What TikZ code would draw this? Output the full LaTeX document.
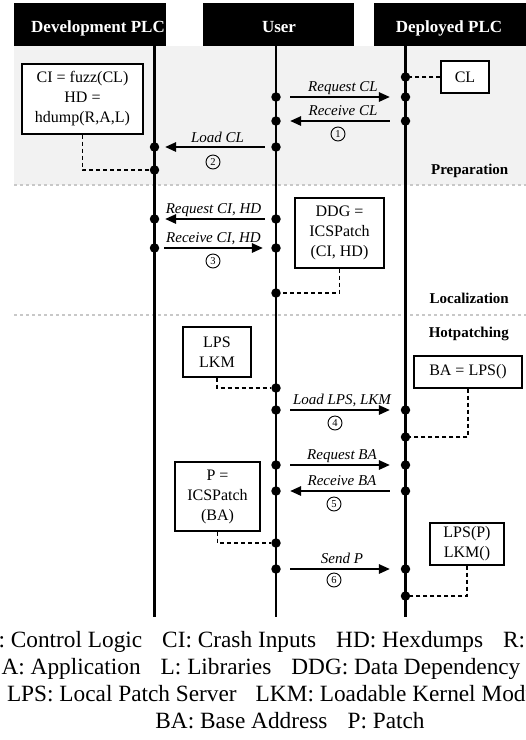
\documentclass[tikz,border=0pt]{standalone}
\usepackage{fontspec}
\setmainfont{Liberation Serif}
\usetikzlibrary{arrows.meta,calc}
\definecolor{prepbg}{HTML}{F2F2F2}
\definecolor{sepgray}{HTML}{C8C8C8}
\tikzset{
  hdr/.style={fill=black, inner sep=0, minimum height=43pt},
  hdrtext/.style={text=white, font=\fontsize{17}{20}\selectfont\bfseries, inner sep=0, anchor=base},
  lifeline/.style={line width=2.7pt},
  dot/.style={circle, fill=black, inner sep=0, minimum size=9.5pt},
  infobox/.style={draw, line width=1.1pt, fill=white, inner sep=0, align=center, font=\fontsize{16}{20}\selectfont},
  msg/.style={line width=1.6pt, -{Triangle[length=11pt,width=9.5pt]}},
  gapUD/.style={shorten <=9.25pt, shorten >=10.75pt},
  gapDU/.style={shorten <=10.75pt, shorten >=9.25pt},
  gapUV/.style={shorten <=6.25pt, shorten >=5.75pt},
  gapVU/.style={shorten <=4.75pt, shorten >=8.25pt},
  msglabel/.style={font=\fontsize{15}{18}\selectfont\itshape, inner sep=0, anchor=base},
  stepnum/.style={circle, draw, line width=0.9pt, minimum size=14pt, inner sep=0, font=\fontsize{10.5}{12}\selectfont},
  dashlink/.style={dash pattern=on 4pt off 3pt, line width=1.1pt},
  sepline/.style={sepgray, line width=1.2pt, dash pattern=on 3pt off 3pt},
  phase/.style={font=\fontsize{15}{18}\selectfont\bfseries, anchor=base east, inner sep=0},
  legendline/.style={font=\fontsize{23.3}{27}\selectfont, anchor=base, inner sep=0},
}
\begin{document}
\begin{tikzpicture}[x=1pt,y=-1pt]
\useasboundingbox (0,0) rectangle (526,740);

% phase backgrounds and separators
\fill[prepbg] (14,46) rectangle (526,185);
\draw[sepline] (14,185) -- (526,185);
\draw[sepline] (14,315) -- (526,315);

% headers
\node[hdr, minimum width=152pt] (hdev) at (90,24.5) {};
\node[hdr, minimum width=151pt] (huser) at (278.5,24.5) {};
\node[hdr, minimum width=152pt] (hdep) at (450,24.5) {};
\node[hdrtext] (tdev) at (98,32) {Development PLC};
\node[hdrtext] (tuser) at (279,32) {User};
\node[hdrtext] (tdep) at (449,32) {Deployed PLC};

% lifelines
\coordinate (devtop) at (154.5,46);
\coordinate (devbot) at (154.5,617);
\coordinate (usrtop) at (276,46);
\coordinate (usrbot) at (276,617);
\coordinate (deptop) at (405.5,46);
\coordinate (depbot) at (405.5,617);
\draw[lifeline] (devtop) -- (devbot);
\draw[lifeline] (usrtop) -- (usrbot);
\draw[lifeline] (deptop) -- (depbot);

% boxes
\node[infobox, minimum width=48pt, minimum height=32pt] (bCL) at (465,77) {CL};
\node[infobox, minimum width=121pt, minimum height=70pt] (bCI) at (82.5,99) {CI = fuzz(CL)\\HD =\\hdump(R,A,L)};
\node[infobox, minimum width=89pt, minimum height=70pt] (bDDG) at (339.5,233) {DDG =\\ICSPatch\\(CI, HD)};
\node[infobox, minimum width=68pt, minimum height=50pt] (bLPS) at (217,352) {LPS\\LKM};
\node[infobox, minimum width=108pt, minimum height=32pt] (bBA) at (468,372) {BA = LPS()};
\node[infobox, minimum width=85pt, minimum height=69pt] (bP) at (217.5,496.5) {P =\\ICSPatch\\(BA)};
\node[infobox, minimum width=74pt, minimum height=42pt] (bLPSP) at (467,544) {LPS(P)\\LKM()};

% dots
\node[dot] (dCL) at (405.5,77) {};
\node[dot] (dReqCL) at (405.5,97) {};
\node[dot] (dRecCL) at (405.5,121) {};
\node[dot] (dLoad) at (405.5,410) {};
\node[dot] (dBA) at (405.5,437) {};
\node[dot] (dReqBA) at (405.5,465) {};
\node[dot] (dRecBA) at (405.5,491) {};
\node[dot] (dSend) at (405.5,569) {};
\node[dot] (dLPSP) at (405.5,596) {};
\node[dot] (uReqCL) at (276,97) {};
\node[dot] (uRecCL) at (276,121) {};
\node[dot] (uLoadCL) at (276,147) {};
\node[dot] (uReqCI) at (276,219) {};
\node[dot] (uRecCI) at (276,248) {};
\node[dot] (uDDG) at (276,293) {};
\node[dot] (uLPS) at (276,388) {};
\node[dot] (uLoad) at (276,410) {};
\node[dot] (uReqBA) at (276,465) {};
\node[dot] (uRecBA) at (276,491) {};
\node[dot] (uP) at (276,543) {};
\node[dot] (uSend) at (276,569) {};
\node[dot] (vLoadCL) at (154.5,147) {};
\node[dot] (vCI) at (154.5,170) {};
\node[dot] (vReqCI) at (154.5,219) {};
\node[dot] (vRecCI) at (154.5,248) {};

% dashed links
\draw[dashlink] (bCL.west) -- (dCL);
\draw[dashlink] (bCI.south) |- (vCI);
\draw[dashlink] (bDDG.south) |- (uDDG);
\draw[dashlink] (bLPS.south) |- (uLPS);
\draw[dashlink] (bBA.south) |- (dBA);
\draw[dashlink] (bP.south) |- (uP);
\draw[dashlink] (bLPSP.south) |- (dLPSP);

% messages
\draw[msg, gapUD] (uReqCL) -- (dReqCL);
\draw[msg, gapDU] (dRecCL) -- (uRecCL);
\draw[msg, gapUV] (uLoadCL) -- (vLoadCL);
\draw[msg, gapUV] (uReqCI) -- (vReqCI);
\draw[msg, gapVU] (vRecCI) -- (uRecCI);
\draw[msg, gapUD] (uLoad) -- (dLoad);
\draw[msg, gapUD] (uReqBA) -- (dReqBA);
\draw[msg, gapDU] (dRecBA) -- (uRecBA);
\draw[msg, gapUD] (uSend) -- (dSend);

% message labels
\node[msglabel] (lReqCL) at (343,91) {Request CL};
\node[msglabel] (lRecCL) at (343,115) {Receive CL};
\node[msglabel] (lLoadCL) at (217.5,142) {Load CL};
\node[msglabel] (lReqCI) at (213.5,213) {Request CI, HD};
\node[msglabel] (lRecCI) at (213.5,242) {Receive CI, HD};
\node[msglabel] (lLoad) at (342,404) {Load LPS, LKM};
\node[msglabel] (lReqBA) at (342,459) {Request BA};
\node[msglabel] (lRecBA) at (342,485) {Receive BA};
\node[msglabel] (lSend) at (342,563) {Send P};

% step numbers
\node[stepnum] (s1) at (338,134) {1};
\node[stepnum] (s2) at (213,162) {2};
\node[stepnum] (s3) at (213,261) {3};
\node[stepnum] (s4) at (335,423) {4};
\node[stepnum] (s5) at (334,504) {5};
\node[stepnum] (s6) at (334,580) {6};

% phase labels
\node[phase] (pPrep) at (508.5,174) {Preparation};
\node[phase] (pLoc) at (509,303) {Localization};
\node[phase] (pHot) at (509,337) {Hotpatching};

% legend (cut at the picture's edges, as in the reference)
\node[legendline] (leg1) at (290,647) {CL: Control Logic\hspace{20pt}CI: Crash Inputs\hspace{20pt}HD: Hexdumps\hspace{20pt}R: Runtime};
\node[legendline] (leg2) at (293,674) {A: Application\hspace{20pt}L: Libraries\hspace{20pt}DDG: Data Dependency Graph};
\node[legendline] (leg3) at (280.5,701) {LPS: Local Patch Server\hspace{19pt}LKM: Loadable Kernel Module};
\node[legendline] (leg4) at (290,728) {BA: Base Address\hspace{20pt}P: Patch};
\end{tikzpicture}
\end{document}
